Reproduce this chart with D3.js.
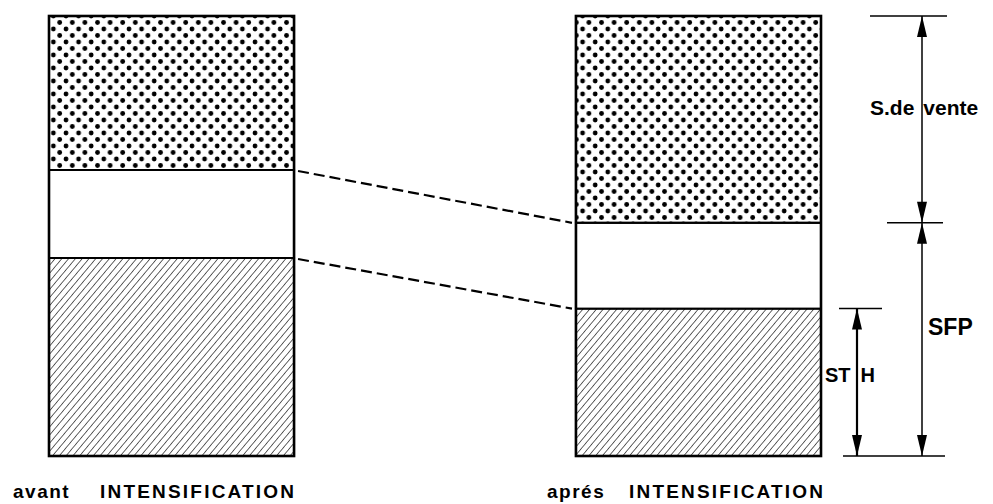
<!DOCTYPE html>
<html>
<head>
<meta charset="utf-8">
<script src="https://cdnjs.cloudflare.com/ajax/libs/d3/7.8.5/d3.min.js"></script>
<style>
    body { margin: 0; background: #fff; }
    text { font-family: "Liberation Sans", Arial, sans-serif; font-weight: bold; fill: #000; }
</style>
</head>
<body>
<script>
// share of the surface (%), bottom to top
var periods = ["avant", "aprés"];
var sth = [45, 33.5];
var autreSfp = [20, 19.5];
var vente = [35, 47];
var bottomLabels = ["avant INTENSIFICATION", "aprés INTENSIFICATION"];

var w = 993, h = 504;

var svg = d3.select("body").append("svg")
    .attr("width", w)
    .attr("height", h);

var x = d3.scaleBand()
    .domain(periods)
    .range([49, 821])
    .paddingInner(0.535)
    .paddingOuter(0);
var y = d3.scaleLinear()
    .domain([0, 100])
    .range([456, 16]);
var bw = x.bandwidth();

// patterns
var defs = svg.append("defs");
var dots = defs.append("pattern")
    .attr("id", "dots")
    .attr("patternUnits", "userSpaceOnUse")
    .attr("width", 12.6)
    .attr("height", 13);
dots.append("circle").attr("cx", 3).attr("cy", 3).attr("r", 2.4);
dots.append("circle").attr("cx", 9.3).attr("cy", 9.5).attr("r", 2.4);

var hatch = defs.append("pattern")
    .attr("id", "hatch")
    .attr("patternUnits", "userSpaceOnUse")
    .attr("width", 5.2)
    .attr("height", 10)
    .attr("patternTransform", "rotate(40)");
hatch.append("line")
    .attr("x1", 0).attr("y1", 0)
    .attr("x2", 0).attr("y2", 10)
    .attr("stroke", "#000")
    .attr("stroke-width", 1.2);

var segs = [];
periods.forEach(function (p, i) {
    segs.push({p: p, y0: 0, y1: sth[i], fill: "url(#hatch)"});
    segs.push({p: p, y0: sth[i], y1: sth[i] + autreSfp[i], fill: "#fff"});
    segs.push({p: p, y0: sth[i] + autreSfp[i], y1: 100, fill: "url(#dots)"});
});

svg.selectAll(".seg")
    .data(segs)
    .enter()
    .append("rect")
    .classed("seg", true)
    .attr("x", function (d) { return x(d.p); })
    .attr("y", function (d) { return y(d.y1); })
    .attr("width", bw)
    .attr("height", function (d) { return y(d.y0) - y(d.y1); })
    .attr("fill", function (d) { return d.fill; })
    .attr("stroke", "#000")
    .attr("stroke-width", 2);

// outer frame of each bar
svg.selectAll(".frame")
    .data(periods)
    .enter()
    .append("rect")
    .classed("frame", true)
    .attr("x", function (d) { return x(d); })
    .attr("y", y(100))
    .attr("width", bw)
    .attr("height", y(0) - y(100))
    .attr("fill", "none")
    .attr("stroke", "#000")
    .attr("stroke-width", 2.6);

// dashed links between the two bars
var links = [
    [sth[0] + autreSfp[0], sth[1] + autreSfp[1]],
    [sth[0], sth[1]]
];
svg.selectAll(".link")
    .data(links)
    .enter()
    .append("line")
    .classed("link", true)
    .attr("x1", x(periods[0]) + bw + 4)
    .attr("y1", function (d) { return y(d[0]) + 1; })
    .attr("x2", x(periods[1]) - 4)
    .attr("y2", function (d) { return y(d[1]); })
    .attr("stroke", "#000")
    .attr("stroke-width", 2.2)
    .attr("stroke-dasharray", "11,5");

// dimension lines
function tick(yv, xa, xb) {
    svg.append("line")
        .attr("x1", xa).attr("x2", xb)
        .attr("y1", y(yv)).attr("y2", y(yv))
        .attr("stroke", "#000")
        .attr("stroke-width", 1.5);
}
function arrowHead(xc, yTip, dir) {
    var len = 21, hw = 5;
    svg.append("path")
        .attr("d", "M" + xc + "," + yTip +
            "L" + (xc - hw) + "," + (yTip + dir * len) +
            "L" + (xc + hw) + "," + (yTip + dir * len) + "Z")
        .attr("fill", "#000");
}
function dim(xc, yTop, yBot, sw) {
    svg.append("line")
        .attr("x1", xc).attr("x2", xc)
        .attr("y1", y(yTop)).attr("y2", y(yBot))
        .attr("stroke", "#000")
        .attr("stroke-width", sw);
    arrowHead(xc, y(yTop), 1);
    arrowHead(xc, y(yBot), -1);
}

var rightTop = sth[1] + autreSfp[1];
tick(100, 870, 947);
tick(rightTop, 887, 943);
tick(sth[1], 839, 882);
tick(0, 843, 945);

dim(922, 100, rightTop, 1.5);
dim(922, rightTop, 0, 1.5);
dim(857, sth[1], 0, 2.2);

var sv = svg.append("text")
    .attr("x", 870)
    .attr("y", y(100) + 99)
    .style("font-size", "21px");
sv.append("tspan").text("S.de");
sv.append("tspan").attr("dx", 9).text("vente");

svg.append("text")
    .attr("x", 928)
    .attr("y", y(rightTop) + 112)
    .style("font-size", "23px")
    .text("SFP");

var st = svg.append("text")
    .attr("x", 825)
    .attr("y", y(sth[1]) + 73)
    .style("font-size", "20px");
st.append("tspan").text("ST");
st.append("tspan").attr("dx", 10).text("H");

// bottom captions
svg.selectAll(".caption")
    .data(bottomLabels)
    .enter()
    .append("text")
    .classed("caption", true)
    .attr("y", 498)
    .style("font-size", "19px")
    .each(function (d, i) {
        var parts = d.split(" ");
        var t = d3.select(this);
        t.append("tspan")
            .attr("x", i === 0 ? 13 : 547)
            .style("letter-spacing", "1.5px")
            .text(parts[0]);
        t.append("tspan")
            .attr("x", i === 0 ? 100 : 629)
            .style("letter-spacing", "2.2px")
            .text(parts[1]);
    });
</script>
</body>
</html>
